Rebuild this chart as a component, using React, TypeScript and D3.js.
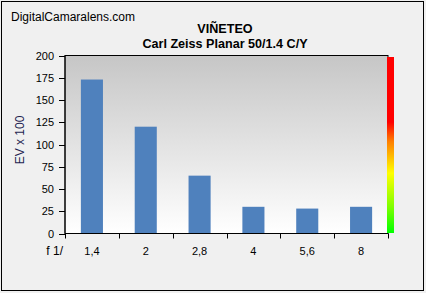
import React from "react";
import * as d3 from "d3";

const categories = ["1,4", "2", "2,8", "4", "5,6", "8"];
const values = [173, 120, 65, 30, 28, 30];
const yTicks = [0, 25, 50, 75, 100, 125, 150, 175, 200];

const W = 426, H = 293;
const M = { left: 65, right: 388, top: 55.5, bottom: 233.5 };
const FONT = "'Liberation Sans', Arial, sans-serif";

export default function App() {
  const x = d3.scaleBand<string>().domain(categories).range([M.left, M.right]).paddingInner(0.59).paddingOuter(0.295);
  const xb = d3.scaleBand<string>().domain(categories).range([M.left, M.right]);
  const y = d3.scaleLinear().domain([0, 200]).range([M.bottom, M.top]);
  const boundaries = [...categories.map((c) => xb(c)!), M.right];
  return (
    <svg width={W} height={H} style={{ position: "absolute", left: 0, top: 0 }} fontFamily={FONT}>
      <defs>
        <linearGradient id="plotg" x1="0" y1="0" x2="0" y2="1">
          <stop offset="0" stopColor="#c6c6c6" />
          <stop offset="1" stopColor="#ffffff" />
        </linearGradient>
        <linearGradient id="scaleg" x1="0" y1="0" x2="0" y2="1">
          <stop offset="0" stopColor="#ff0000" />
          <stop offset="0.37" stopColor="#ff0000" />
          <stop offset="0.48" stopColor="#ff7f00" />
          <stop offset="0.66" stopColor="#ffff00" />
          <stop offset="0.85" stopColor="#80ff00" />
          <stop offset="1" stopColor="#00ff00" />
        </linearGradient>
      </defs>
      <rect x={0} y={0} width={W} height={H} fill="#f0f0f0" />
      <rect x={1.5} y={1.5} width={422} height={289} fill="#f0f0f0" stroke="#000" strokeWidth={1} />
      <text x={11} y={21} fontSize={12} fill="#000">DigitalCamaralens.com</text>
      <text x={225} y={33} fontSize={12.6} fontWeight="bold" textAnchor="middle" fill="#000">VIÑETEO</text>
      <text x={225} y={48} fontSize={12.6} fontWeight="bold" textAnchor="middle" fill="#000">Carl Zeiss Planar 50/1.4 C/Y</text>
      <rect x={M.left} y={M.top} width={M.right - M.left} height={M.bottom - M.top} fill="url(#plotg)" stroke="#000" strokeWidth={1} />
      {categories.map((c, i) => (
        <rect key={c} x={x(c)} y={y(values[i])} width={x.bandwidth()} height={M.bottom - y(values[i])} fill="#4f81bd" />
      ))}
      <rect x={387} y={57} width={7} height={176} fill="url(#scaleg)" />
      <line x1={M.left} x2={M.left} y1={M.top} y2={M.bottom} stroke="#000" />
      <line x1={M.left} x2={M.right} y1={M.bottom} y2={M.bottom} stroke="#000" />
      {yTicks.map((t) => (
        <g key={t}>
          <line x1={M.left - 6} x2={M.left} y1={Math.round(y(t)) + 0.5} y2={Math.round(y(t)) + 0.5} stroke="#000" />
          <text x={54} y={y(t) + 4} fontSize={11} textAnchor="end" fill="#000">{t}</text>
        </g>
      ))}
      {boundaries.map((b, i) => (
        <line key={i} x1={Math.round(b) + 0.5} x2={Math.round(b) + 0.5} y1={M.bottom} y2={M.bottom + 5} stroke="#000" />
      ))}
      {categories.map((c) => (
        <text key={c} x={xb(c)! + xb.bandwidth() / 2} y={255} fontSize={11} textAnchor="middle" fill="#000">{c}</text>
      ))}
      <text x={63} y={255} fontSize={12} textAnchor="end" fill="#000">f 1/</text>
      <text transform="translate(24,140) rotate(-90)" fontSize={12} textAnchor="middle" fill="#1f1f50">EV x 100</text>
    </svg>
  );
}
